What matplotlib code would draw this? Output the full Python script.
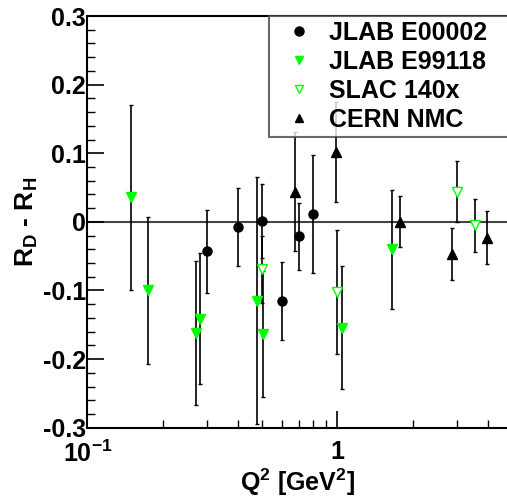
import matplotlib
matplotlib.use("Agg")
import matplotlib.pyplot as plt
from matplotlib.lines import Line2D

plt.rcParams['font.family'] = ['Liberation Sans', 'DejaVu Sans']
plt.rcParams['font.weight'] = 'bold'
plt.rcParams['mathtext.fontset'] = 'custom'
plt.rcParams['mathtext.rm'] = 'Liberation Sans:bold'
plt.rcParams['mathtext.it'] = 'Liberation Sans:bold'
plt.rcParams['mathtext.bf'] = 'Liberation Sans:bold'
plt.rcParams['axes.unicode_minus'] = False

# JLAB E00002 (black circles)
e00002_q2 = [0.30, 0.40, 0.50, 0.60, 0.70, 0.80]
e00002_r = [-0.043, -0.007, 0.001, -0.115, -0.021, 0.012]
e00002_err = [0.060, 0.057, 0.054, 0.057, 0.049, 0.086]

# JLAB E99118 (green filled down triangles)
e99118_q2 = [0.15, 0.175, 0.272, 0.283, 0.477, 0.506, 1.04, 1.66]
e99118_r = [0.036, -0.100, -0.162, -0.141, -0.115, -0.163, -0.154, -0.040]
e99118_err = [0.135, 0.107, 0.105, 0.096, 0.180, 0.092, 0.090, 0.087]

# SLAC 140x (green open down triangles)
slac_q2 = [0.50, 1.0, 3.0, 3.56]
slac_r = [-0.069, -0.102, 0.044, -0.005]
slac_err = [0.049, 0.090, 0.044, 0.039]

# CERN NMC (black up triangles)
nmc_q2 = [0.676, 0.985, 1.79, 2.87, 3.96]
nmc_r = [0.044, 0.102, 0.000, -0.047, -0.023]
nmc_err = [0.087, 0.073, 0.037, 0.038, 0.039]

labels = ["JLAB E00002", "JLAB E99118", "SLAC 140x", "CERN NMC"]
ytick_vals = [-0.3, -0.2, -0.1, 0.0, 0.1, 0.2, 0.3]
ytick_labels = ["-0.3", "-0.2", "-0.1", "0", "0.1", "0.2", "0.3"]

green = "#00ff00"

fig = plt.figure(figsize=(5.07, 4.99), dpi=100)
ax = fig.add_axes([87.3 / 507, 71.3 / 499, 424.7 / 507, 411.7 / 499])

ax.axhline(0, color="#444444", lw=1.5, zorder=1)

eb_kw = dict(ecolor="black", elinewidth=1.2, capsize=1.5, capthick=1.0, ls="none", zorder=3)
ax.errorbar(e00002_q2, e00002_r, yerr=e00002_err, marker="o", ms=6.5,
            mfc="black", mec="black", **eb_kw)
ax.errorbar(e99118_q2, e99118_r, yerr=e99118_err, marker="v", ms=7,
            mfc=green, mec=green, **eb_kw)
ax.errorbar(slac_q2, slac_r, yerr=slac_err, marker="v", ms=7.5,
            mfc="white", mec=green, mew=1.0, **eb_kw)
ax.errorbar(nmc_q2, nmc_r, yerr=nmc_err, marker="^", ms=7,
            mfc="black", mec="black", **eb_kw)

ax.set_xscale("log")
ax.set_xlim(0.1, 5.0)
ax.set_ylim(-0.3, 0.3)

ax.set_xticks([0.1, 1])
ax.set_xticklabels([r"$10^{-1}$", "1"])
ax.set_xticks([0.2, 0.3, 0.4, 0.5, 0.6, 0.7, 0.8, 0.9, 2, 3, 4], minor=True)
ax.set_xticklabels([], minor=True)
ax.set_yticks(ytick_vals)
ax.set_yticklabels(ytick_labels)
ax.set_yticks([v / 100 for v in range(-28, 30, 2) if v % 10 != 0], minor=True)

ax.tick_params(axis="both", which="both", direction="in", top=False, right=False)
ax.tick_params(axis="y", which="major", length=12, width=1.2, labelsize=18, pad=1)
ax.tick_params(axis="y", which="minor", length=6, width=1.0)
ax.tick_params(axis="x", which="major", length=12, width=1.2, labelsize=18, pad=9)
ax.tick_params(axis="x", which="minor", length=6, width=1.0)
for lab in ax.get_xticklabels() + ax.get_yticklabels():
    lab.set_fontweight("bold")

for s in ["left", "bottom", "top"]:
    ax.spines[s].set_linewidth(1.5)
ax.spines["right"].set_visible(False)

ax.set_xlabel(r"Q$^{2}$ [GeV$^{2}$]", fontsize=18, fontweight="bold")
ax.set_ylabel(r"R$_{D}$ - R$_{H}$", fontsize=19, fontweight="bold", labelpad=2)
ax.xaxis.set_label_coords(0.495, -0.094)

handles = [
    Line2D([], [], ls="none", marker="o", ms=6.5, mfc="black", mec="black"),
    Line2D([], [], ls="none", marker="v", ms=6, mfc=green, mec=green),
    Line2D([], [], ls="none", marker="v", ms=6, mfc="white", mec=green),
    Line2D([], [], ls="none", marker="^", ms=6, mfc="black", mec="black"),
]
leg = ax.legend(handles, labels, loc="upper left",
                bbox_to_anchor=(269 / 507, 1 - 16 / 499, 250 / 507, 0),
                bbox_transform=fig.transFigure, mode="expand",
                prop={"family": "Liberation Sans", "weight": "bold", "size": 18},
                frameon=True, fancybox=False, borderaxespad=0,
                borderpad=0.2, labelspacing=0.2, handletextpad=0.2,
                handlelength=2.0)
leg.get_frame().set_edgecolor("#444444")
leg.get_frame().set_linewidth(1.5)
leg.set_zorder(5)

fig.savefig("out.png", dpi=100)
